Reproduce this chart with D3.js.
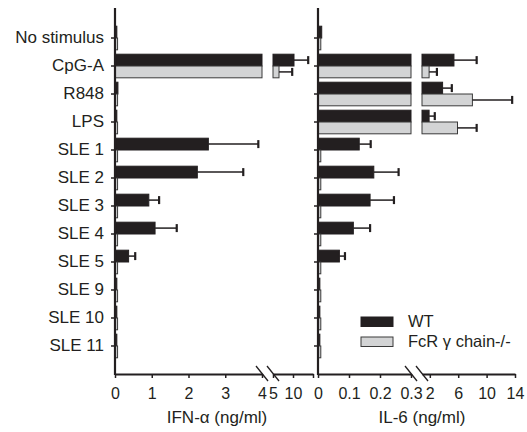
<!DOCTYPE html>
<html>
<head>
<meta charset="utf-8">
<script src="https://cdn.jsdelivr.net/npm/d3@7"></script>
<style>
	body { margin: 0; background: #fff; }
	text { font-family: "Liberation Sans", Arial, sans-serif; fill: #231f20; }
</style>
</head>
<body>
<div id="chart"></div>
<script>

// rows, top to bottom
let categories = ["No stimulus", "CpG-A", "R848", "LPS", "SLE 1", "SLE 2", "SLE 3", "SLE 4", "SLE 5", "SLE 9", "SLE 10", "SLE 11"];
let seriesNames = ["WT", "FcR \u03b3 chain-/-"];

// IFN-alpha (ng/ml), mean and sd
let ifnWT    = [0.05, 10.25, 0.08, 0.05, 2.54, 2.24, 0.92, 1.09, 0.37, 0.05, 0.05, 0.05];
let ifnWTSd  = [0, 3.55, 0, 0, 1.36, 1.25, 0.28, 0.59, 0.18, 0, 0, 0];
let ifnKO    = [0.07, 6.5, 0.07, 0.07, 0.07, 0.07, 0.07, 0.07, 0.07, 0.07, 0.07, 0.07];
let ifnKOSd  = [0, 3.3, 0, 0, 0, 0, 0, 0, 0, 0, 0, 0];

// IL-6 (ng/ml), mean and sd
let il6WT    = [0.012, 5.4, 3.8, 1.9, 0.133, 0.18, 0.168, 0.114, 0.069, 0.006, 0.006, 0.006];
let il6WTSd  = [0, 3.2, 1.3, 0.8, 0.037, 0.08, 0.077, 0.054, 0.018, 0, 0, 0];
let il6KO    = [0.009, 1.9, 8.0, 5.9, 0.009, 0.009, 0.009, 0.009, 0.009, 0.009, 0.009, 0.009];
let il6KOSd  = [0, 1.1, 5.6, 2.7, 0, 0, 0, 0, 0, 0, 0, 0];

// tick values and labels of the broken axes
let ifnTicksLow   = [0, 1, 2, 3, 4];
let ifnTicksHigh  = [5, 10, 15];
let ifnLabelsHigh = ["5", "10", ""];
let il6TicksLow   = [0, 0.1, 0.2, 0.3];
let il6TicksHigh  = [2, 6, 10, 14];
let il6LabelsHigh = ["2", "6", "10", "14"];

const blackColor = "#231f20";
const greyColor = "#d3d4d5";

let svg = d3.select("#chart").append("svg")
	.attr("width", 527)
	.attr("height", 432);

// shared row scale
let y = d3.scaleBand()
	.domain(categories)
	.range([24, 360])
	.paddingInner(0.157)
	.paddingOuter(0.079);

let ySub = d3.scaleBand()
	.domain([0, 1])
	.range([0, y.bandwidth()]);

const axisY = 374;


/*
 *  BrokenBarVis - one panel with a broken x axis
 */
class BrokenBarVis {

	constructor(svg, config) {
		this.svg = svg;
		this.config = config;

		this.initVis();
	}

	initVis() {
		let vis = this;
		let c = vis.config;

		vis.g = vis.svg.append("g");

		// two linear pieces of the x axis
		vis.xLow = d3.scaleLinear()
			.domain(c.lowDomain)
			.range(c.lowRange);
		vis.xHigh = d3.scaleLinear()
			.domain(c.highDomain)
			.range(c.highRange);

		vis.lowMax = c.lowDomain[1];
		vis.x0 = vis.xLow(0);

		vis.rows = [];
		categories.forEach((cat, i) => {
			c.series.forEach((s, j) => {
				vis.rows.push({cat: cat, s: j, v: s.values[i], sd: s.sd[i]});
			});
		});

		vis.drawBars();
		vis.drawAxes();
	}

	// value to pixel on the broken axis
	xPos(v) {
		let vis = this;
		return v <= vis.lowMax ? vis.xLow(v) : vis.xHigh(v);
	}

	drawBars() {
		let vis = this;

		let bars = vis.g.selectAll("g.bar")
			.data(vis.rows)
			.enter()
			.append("g")
			.attr("class", "bar")
			.attr("transform", d => `translate(0, ${y(d.cat) + ySub(d.s)})`);

		let h = ySub.bandwidth();

		bars.append("rect")
			.attr("x", vis.x0)
			.attr("y", 0)
			.attr("width", d => Math.max(vis.xLow(Math.min(d.v, vis.lowMax)) - vis.x0, 0.5))
			.attr("height", h)
			.attr("fill", d => d.s === 0 ? blackColor : greyColor)
			.attr("stroke", d => d.s === 0 ? blackColor : "#3a3a3a")
			.attr("stroke-width", 1);

		// part of the bar beyond the break
		bars.filter(d => d.v > vis.lowMax)
			.append("rect")
			.attr("x", vis.xHigh(vis.config.highDomain[0]))
			.attr("y", 0)
			.attr("width", d => vis.xHigh(d.v) - vis.xHigh(vis.config.highDomain[0]))
			.attr("height", h)
			.attr("fill", d => d.s === 0 ? blackColor : greyColor)
			.attr("stroke", d => d.s === 0 ? blackColor : "#3a3a3a")
			.attr("stroke-width", 1);

		// error bars
		let err = bars.filter(d => d.sd > 0);

		err.append("line")
			.attr("x1", d => vis.xPos(d.v))
			.attr("x2", d => vis.xPos(d.v + d.sd))
			.attr("y1", h / 2)
			.attr("y2", h / 2)
			.attr("stroke", blackColor)
			.attr("stroke-width", 1.5);

		err.append("line")
			.attr("x1", d => vis.xPos(d.v + d.sd))
			.attr("x2", d => vis.xPos(d.v + d.sd))
			.attr("y1", h / 2 - 4)
			.attr("y2", h / 2 + 4)
			.attr("stroke", blackColor)
			.attr("stroke-width", 2.2);
	}

	drawAxes() {
		let vis = this;
		let c = vis.config;

		// y axis
		let yAxis = d3.axisLeft(y)
			.tickSize(4)
			.tickSizeOuter(0)
			.tickPadding(7)
			.tickFormat(c.showLabels ? (d => d) : "");

		let yG = vis.g.append("g")
			.attr("transform", `translate(${vis.x0}, 0)`)
			.call(yAxis);
		yG.select(".domain").remove();
		yG.selectAll(".tick line").attr("stroke", blackColor).attr("stroke-width", 1.5);
		yG.selectAll("text")
			.style("font-size", "17px")
			.attr("fill", blackColor);

		vis.g.append("line")
			.attr("x1", vis.x0).attr("x2", vis.x0)
			.attr("y1", 8).attr("y2", axisY + 1)
			.attr("stroke", blackColor)
			.attr("stroke-width", 2.2);

		// x axis, low part
		let lowG = vis.g.append("g")
			.attr("transform", `translate(0, ${axisY})`)
			.call(d3.axisBottom(vis.xLow)
				.tickValues(c.ticksLow)
				.tickFormat(d3.format("~g"))
				.tickSize(4)
				.tickSizeOuter(0)
				.tickPadding(10));

		// x axis, high part
		let highG = vis.g.append("g")
			.attr("transform", `translate(0, ${axisY})`)
			.call(d3.axisBottom(vis.xHigh)
				.tickValues(c.ticksHigh)
				.tickFormat((d, i) => c.labelsHigh[i])
				.tickSize(4)
				.tickSizeOuter(0)
				.tickPadding(10));

		[lowG, highG].forEach(g => {
			g.select(".domain").attr("stroke", blackColor).attr("stroke-width", 2);
			g.selectAll(".tick line").attr("stroke", blackColor).attr("stroke-width", 1.5);
			g.selectAll("text")
				.style("font-size", "16px")
				.attr("fill", blackColor);
		});

		// break marks
		[vis.xLow(vis.lowMax), vis.xHigh(c.highDomain[0])].forEach(cx => {
			vis.g.append("line")
				.attr("x1", cx - 6).attr("x2", cx + 6)
				.attr("y1", axisY - 8).attr("y2", axisY + 7)
				.attr("stroke", blackColor)
				.attr("stroke-width", 1.3);
		});

		// axis title
		vis.g.append("text")
			.attr("x", c.titleX)
			.attr("y", 423)
			.attr("text-anchor", "middle")
			.style("font-size", "17px")
			.text(c.title);
	}
}


let ifnVis = new BrokenBarVis(svg, {
	lowDomain: [0, 4], lowRange: [115, 262],
	highDomain: [5, 15], highRange: [273, 313],
	ticksLow: ifnTicksLow, ticksHigh: ifnTicksHigh, labelsHigh: ifnLabelsHigh,
	series: [{values: ifnWT, sd: ifnWTSd}, {values: ifnKO, sd: ifnKOSd}],
	showLabels: true,
	title: "IFN-\u03b1 (ng/ml)",
	titleX: 217
});

let il6Vis = new BrokenBarVis(svg, {
	lowDomain: [0, 0.3], lowRange: [318, 411],
	highDomain: [0.9, 14], highRange: [422, 515],
	ticksLow: il6TicksLow, ticksHigh: il6TicksHigh, labelsHigh: il6LabelsHigh,
	series: [{values: il6WT, sd: il6WTSd}, {values: il6KO, sd: il6KOSd}],
	showLabels: false,
	title: "IL-6 (ng/ml)",
	titleX: 422
});

// legend
let legend = svg.append("g")
	.attr("transform", "translate(361, 317)");

let legendItems = legend.selectAll("g")
	.data(seriesNames)
	.enter()
	.append("g")
	.attr("transform", (d, i) => `translate(0, ${i * 20})`);

legendItems.append("rect")
	.attr("width", 32)
	.attr("height", 9.5)
	.attr("fill", (d, i) => i === 0 ? blackColor : greyColor)
	.attr("stroke", (d, i) => i === 0 ? blackColor : "#3a3a3a")
	.attr("stroke-width", 1);

legendItems.append("text")
	.attr("x", 47)
	.attr("y", 10)
	.style("font-size", "16.5px")
	.text(d => d);

</script>
</body>
</html>
